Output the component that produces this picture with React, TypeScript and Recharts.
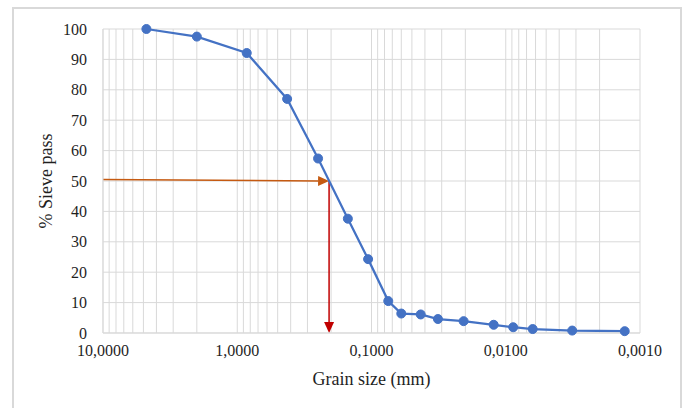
import {
  LineChart,
  Line,
  XAxis,
  YAxis,
  CartesianGrid,
  ReferenceLine,
  Label,
} from 'recharts'

// grain size (mm) and % passing
const grainSize = [4.75, 2.0, 0.85, 0.425, 0.25, 0.15, 0.106, 0.075, 0.06, 0.043, 0.032, 0.0206, 0.0123, 0.0088, 0.0063, 0.0032, 0.0013]
const passing = [100, 97.5, 92.1, 77.0, 57.4, 37.6, 24.3, 10.5, 6.4, 6.1, 4.6, 3.9, 2.7, 1.9, 1.3, 0.8, 0.6]

const xTicks = [10, 1, 0.1, 0.01, 0.001]
const yTicks = [0, 10, 20, 30, 40, 50, 60, 70, 80, 90, 100]

// D50 construction lines
const d50Size = 0.207
const d50Start = 50.5
const d50Value = 50

// log grid: 1..9 in each decade
const minorGrid: number[] = []
for (const dec of [0.001, 0.01, 0.1, 1]) {
  for (let k = 1; k <= 9; k++) minorGrid.push(+(dec * k).toPrecision(3))
}
minorGrid.push(10)

const data = grainSize.map((s, i) => ({ size: s, pass: passing[i] }))

const FONT = '"Liberation Serif", "Times New Roman", serif'
const INK = '#1f1f1f'

const fmt = (v: number) => v.toFixed(4).replace('.', ',')

const arrowShape = (color: string) => (props: any) => {
  const { x1, y1, x2, y2 } = props
  const dx = x2 - x1
  const dy = y2 - y1
  const len = Math.hypot(dx, dy) || 1
  const ux = dx / len
  const uy = dy / len
  const L = 11
  const W = 5
  const bx = x2 - ux * L
  const by = y2 - uy * L
  const pts = `${x2},${y2} ${bx - uy * W},${by + ux * W} ${bx + uy * W},${by - ux * W}`
  return (
    <g>
      <line x1={x1} y1={y1} x2={bx} y2={by} stroke={color} strokeWidth={1.5} />
      <polygon points={pts} fill={color} />
    </g>
  )
}

export default function App() {
  return (
    <div style={{ position: 'absolute', left: 0, top: 0, width: 688, height: 408, background: '#fff', overflow: 'hidden' }}>
      <div style={{ position: 'absolute', left: 12, top: 7, width: 670, height: 420, border: '2px solid #d9d9d9', boxSizing: 'border-box' }} />
      <LineChart
        width={688}
        height={408}
        data={data}
        margin={{ top: 29, right: 48, left: 0, bottom: 0 }}
        style={{ position: 'absolute', left: 0, top: 0 }}
      >
        <CartesianGrid stroke="#d9d9d9" vertical={false} />
        {minorGrid.map((v) => (
          <ReferenceLine key={v} x={v} stroke="#d9d9d9" strokeWidth={1} ifOverflow="visible" />
        ))}
        <XAxis
          dataKey="size"
          type="number"
          scale="log"
          domain={[0.001, 10]}
          reversed
          ticks={xTicks}
          tickFormatter={fmt}
          allowDataOverflow
          height={75}
          tickLine={false}
          tickSize={0}
          tickMargin={12}
          axisLine={{ stroke: '#d9d9d9' }}
          tick={{ fontSize: 16, fill: INK, fontFamily: FONT }}
        >
          <Label
            content={({ viewBox }: any) => (
              <text
                x={viewBox.x + viewBox.width / 2}
                y={viewBox.y + 52}
                textAnchor="middle"
                style={{ fontSize: '18px', fontFamily: FONT }}
                fill={INK}
              >
                Grain size (mm)
              </text>
            )}
          />
        </XAxis>
        <YAxis
          type="number"
          domain={[0, 100]}
          ticks={yTicks}
          width={103}
          tickLine={false}
          tickSize={0}
          tickMargin={16}
          axisLine={{ stroke: '#d9d9d9' }}
          tick={{ fontSize: 16, fill: INK, fontFamily: FONT }}
        >
          <Label
            content={({ viewBox }: any) => {
              const cx = 52
              const cy = viewBox.y + viewBox.height / 2
              return (
                <text
                  x={cx}
                  y={cy}
                  transform={`rotate(-90 ${cx} ${cy})`}
                  textAnchor="middle"
                  style={{ fontSize: '18px', fontFamily: FONT }}
                  fill={INK}
                >
                  % Sieve pass
                </text>
              )
            }}
          />
        </YAxis>
        <ReferenceLine
          segment={[{ x: 10, y: d50Start }, { x: d50Size, y: d50Value }]}
          shape={arrowShape('#c55a11')}
          ifOverflow="visible"
        />
        <ReferenceLine
          segment={[{ x: d50Size, y: d50Value }, { x: d50Size, y: 0 }]}
          shape={arrowShape('#c00000')}
          ifOverflow="visible"
        />
        <Line
          dataKey="pass"
          stroke="#4472c4"
          strokeWidth={2.25}
          dot={{ r: 4.5, fill: '#4472c4', stroke: '#4472c4', strokeWidth: 1 }}
          isAnimationActive={false}
        />
      </LineChart>
    </div>
  )
}
